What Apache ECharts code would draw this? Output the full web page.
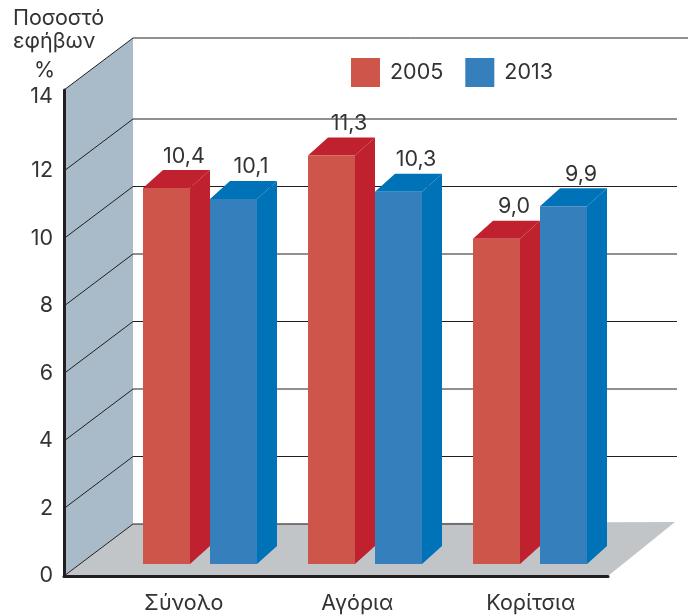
<!DOCTYPE html>
<html>
<head>
<meta charset="utf-8">
<style>html,body{margin:0;padding:0;background:#fff}#chart{width:688px;height:615px}</style>
<script src="https://cdn.jsdelivr.net/npm/echarts@6/dist/echarts.min.js"></script>
</head>
<body>
<div id="chart"></div>
<script>
const categories = ['Σύνολο', 'Αγόρια', 'Κορίτσια']
const values2005 = [10.4, 11.3, 9.0]
const values2013 = [10.1, 10.3, 9.9]
// the top label sits just under the top of the wall, as in the picture
const tickValues = [0, 2, 4, 6, 8, 10, 12, 14.2]
const tickLabels = ['0', '2', '4', '6', '8', '10', '12', '14']
const gridValues = [0, 2, 4, 6, 8, 10, 12, 14.4]

const FONT = 'Inter, "Noto Sans", sans-serif'
const FONT_SIZE = 21.5
const TEXT = '#333333'
const LINE = '#231f20'
const WALL_DX = 69
const WALL_DY = 52
const FLOOR_W = 544
const BAR_W = 47
const BAR_DX = 20
const BAR_DY = 18

const chart = echarts.init(document.getElementById('chart'))

const renderWalls = (params, api) => {
  const a = api.coord([0, 0])
  const t = api.coord([0, 14.4])
  const r = api.coord([FLOOR_W, 0])
  return {
    type: 'group',
    children: [
      {
        type: 'polygon',
        shape: { points: [a, t, [t[0] + WALL_DX, t[1] - WALL_DY], [a[0] + WALL_DX, a[1] - WALL_DY]] },
        style: { fill: '#a9bbc9' }
      },
      {
        type: 'polygon',
        shape: { points: [a, [a[0] + WALL_DX, a[1] - WALL_DY], [r[0] + WALL_DX - 2, r[1] - WALL_DY - 2], r] },
        style: { fill: '#c1c5c8' }
      }
    ]
  }
}

const renderGridLine = (params, api) => {
  const v = api.value(1)
  const p = api.coord([0, v])
  const back = [p[0] + WALL_DX, p[1] - WALL_DY]
  let endX = p[0] + FLOOR_W + WALL_DX
  if (v === 0) endX = 474
  if (v > 14) endX = 688
  return {
    type: 'polyline',
    shape: { points: [p, back, [endX, back[1]]] },
    style: { stroke: LINE, lineWidth: 1, fill: null }
  }
}

const renderBar = (offset, front, dark) => (params, api) => {
  const v = api.value(1)
  const top = api.coord([api.value(0), v])
  const base = api.coord([api.value(0), 0])
  const x0 = top[0] + offset
  const x1 = x0 + BAR_W
  return {
    type: 'group',
    children: [
      {
        type: 'polygon',
        shape: { points: [[x1, top[1]], [x1 + BAR_DX, top[1] - BAR_DY], [x1 + BAR_DX, base[1] - BAR_DY], [x1, base[1]]] },
        style: { fill: dark }
      },
      {
        type: 'polygon',
        shape: { points: [[x0, top[1]], [x0 + BAR_DX, top[1] - BAR_DY], [x1 + BAR_DX, top[1] - BAR_DY], [x1, top[1]]] },
        style: { fill: dark }
      },
      {
        type: 'rect',
        shape: { x: x0, y: top[1], width: BAR_W, height: base[1] - top[1] },
        style: { fill: front }
      },
      {
        type: 'text',
        x: x0 + 41,
        y: top[1] - BAR_DY - 14,
        style: {
          text: v.toFixed(1).replace('.', ','),
          fill: TEXT,
          font: FONT_SIZE + 'px ' + FONT,
          align: 'center',
          verticalAlign: 'middle'
        }
      }
    ]
  }
}

const option = {
  animation: false,
  backgroundColor: '#fff',
  textStyle: { fontFamily: FONT },
  title: {
    text: 'Ποσοστό\nεφήβων',
    left: 8,
    top: 2,
    textStyle: { fontFamily: FONT, fontWeight: 'normal', fontSize: FONT_SIZE, lineHeight: 23, color: TEXT }
  },
  legend: {
    left: 346,
    top: 53,
    itemWidth: 29,
    itemHeight: 29,
    itemGap: 22,
    icon: 'rect',
    selectedMode: false,
    data: ['2005', '2013'],
    textStyle: { fontFamily: FONT, fontSize: FONT_SIZE, color: TEXT, padding: [0, 0, 0, 5] }
  },
  grid: [
    // frame: side wall, floor, axis
    { left: 64, top: 90, width: FLOOR_W, bottom: 39 },
    // category labels
    { left: 97, top: 90, width: 520.5, bottom: 39 },
    // bars
    { left: 117.5, top: 58, width: 495, bottom: 51 }
  ],
  xAxis: [
    {
      gridIndex: 0,
      type: 'value',
      min: 0,
      max: FLOOR_W,
      splitLine: { show: false },
      axisTick: { show: false },
      axisLabel: { show: false },
      axisLine: { show: true, onZero: false, lineStyle: { color: LINE, width: 3 } },
      z: 5
    },
    {
      gridIndex: 1,
      type: 'category',
      data: categories,
      axisLine: { show: false },
      axisTick: { show: false },
      axisLabel: { fontFamily: FONT, fontSize: FONT_SIZE, color: TEXT, margin: 17 }
    },
    { gridIndex: 2, type: 'category', data: categories, show: false }
  ],
  yAxis: [
    {
      gridIndex: 0,
      type: 'value',
      min: 0,
      max: 14.4,
      name: '%',
      nameLocation: 'end',
      nameGap: 8,
      nameTextStyle: { fontFamily: FONT, fontSize: FONT_SIZE, color: TEXT, align: 'right', padding: [0, 9, 0, 0] },
      splitLine: { show: false },
      axisTick: { show: false },
      axisLine: { show: true, lineStyle: { color: LINE, width: 3 } },
      axisLabel: {
        customValues: tickValues,
        fontFamily: FONT,
        fontSize: FONT_SIZE,
        color: TEXT,
        margin: 11,
        padding: [0, 0, 8, 0],
        formatter: (v) => tickLabels[tickValues.indexOf(v)]
      },
      z: 5
    },
    { gridIndex: 1, type: 'value', show: false },
    { gridIndex: 2, type: 'value', min: 0, max: 14, show: false }
  ],
  series: [
    {
      type: 'custom',
      xAxisIndex: 0,
      yAxisIndex: 0,
      z: 1,
      silent: true,
      data: [[0, 0]],
      renderItem: renderWalls
    },
    {
      type: 'custom',
      xAxisIndex: 0,
      yAxisIndex: 0,
      z: 2,
      silent: true,
      data: gridValues.map((v) => [0, v]),
      renderItem: renderGridLine
    },
    {
      name: '2005',
      type: 'custom',
      xAxisIndex: 2,
      yAxisIndex: 2,
      z: 3,
      itemStyle: { color: '#cd5549' },
      encode: { x: 0, y: 1 },
      data: values2005.map((v, i) => [i, v]),
      renderItem: renderBar(-57, '#cd5549', '#c0212e')
    },
    {
      name: '2013',
      type: 'custom',
      xAxisIndex: 2,
      yAxisIndex: 2,
      z: 4,
      itemStyle: { color: '#367fbd' },
      encode: { x: 0, y: 1 },
      data: values2013.map((v, i) => [i, v]),
      renderItem: renderBar(10, '#367fbd', '#0072b8')
    }
  ]
}
chart.setOption(option)
</script>
</body>
</html>
